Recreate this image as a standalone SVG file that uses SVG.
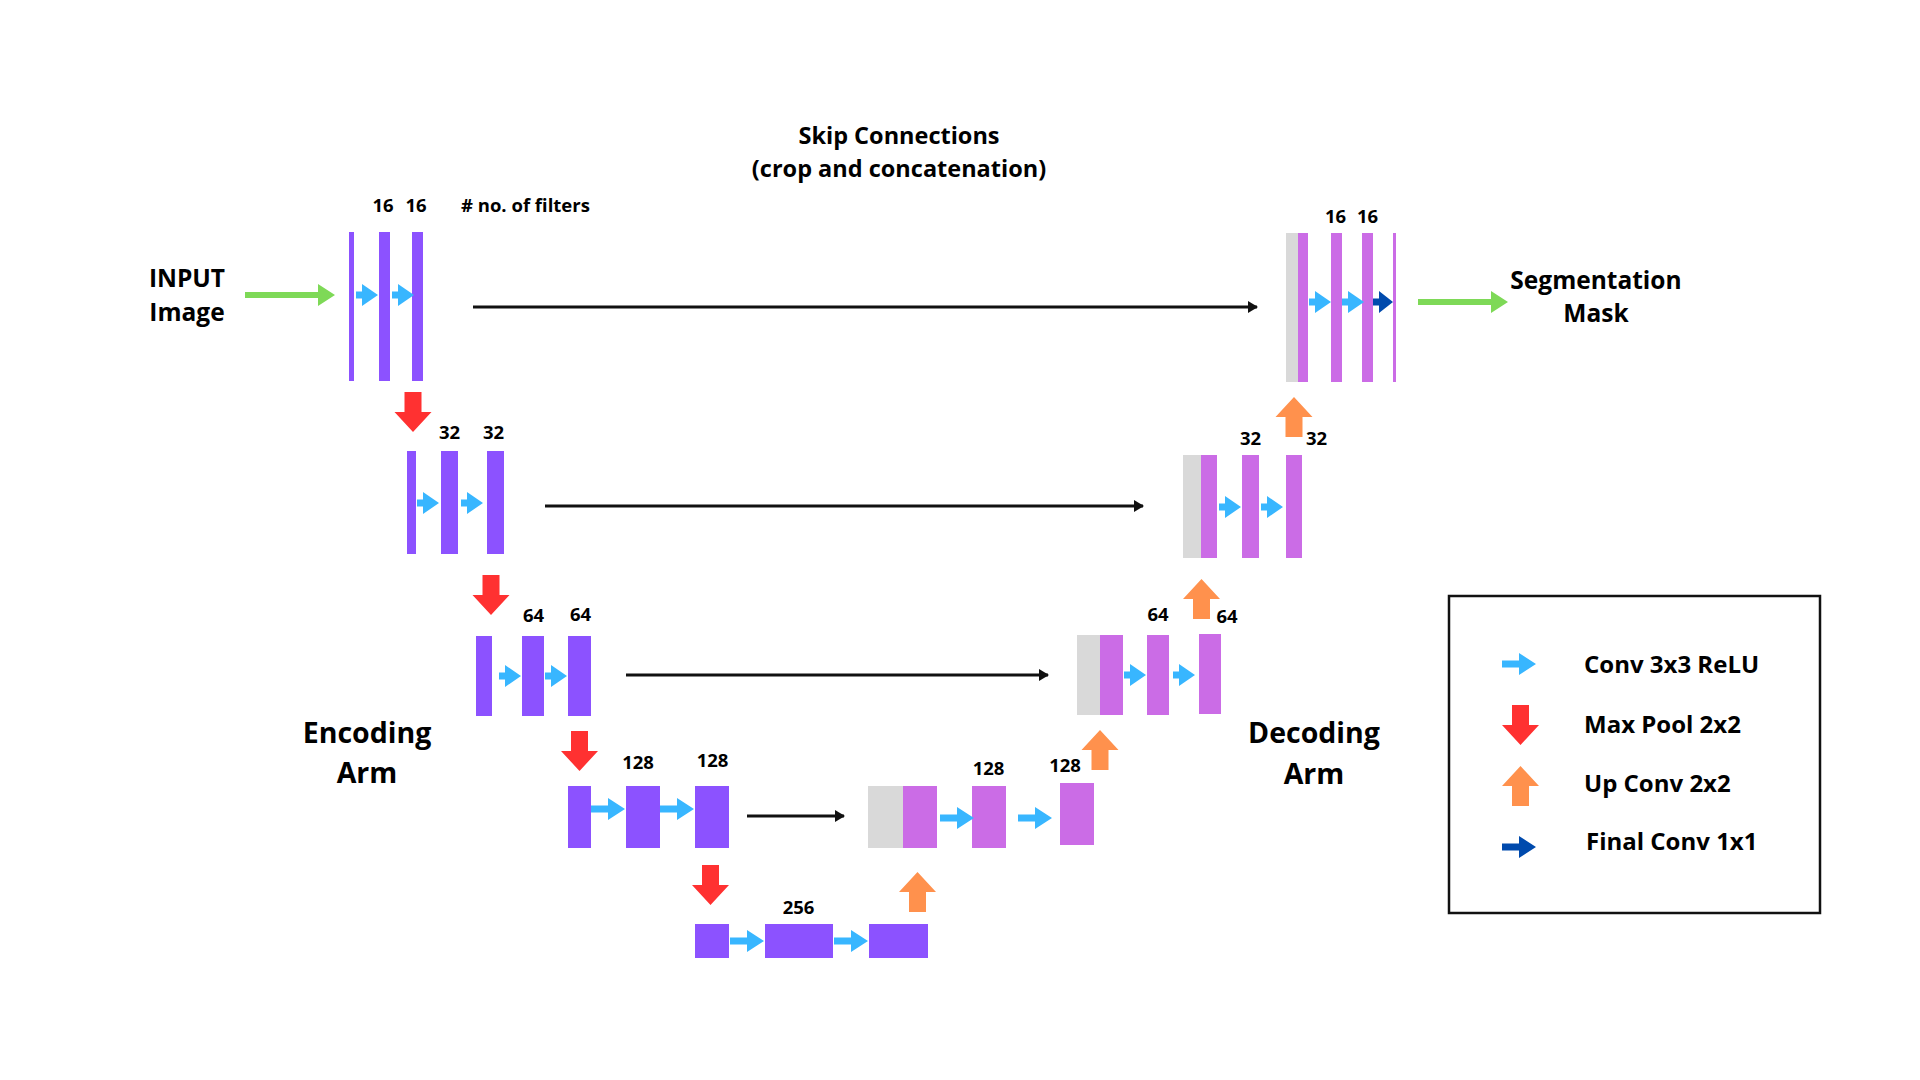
<svg xmlns="http://www.w3.org/2000/svg" xmlns:xlink="http://www.w3.org/1999/xlink" width="1920" height="1080" viewBox="0 0 1920 1080">
<style>
.enc{fill:#8C52FF}
.dec{fill:#CB6CE6}
.crop{fill:#D9D9D9}
.conv{fill:#38B6FF}
.pool{fill:#FF3131}
.up{fill:#FF914D}
.fin{fill:#004AAD}
.io{fill:#7ED957}
.skip{stroke:#111;stroke-width:3;fill:none}
text{font-family:"Open Sans","Liberation Sans",sans-serif;font-weight:700;fill:#000}
.n{font-size:18.5px;text-anchor:middle}
.big{font-size:24.5px;text-anchor:middle}
.arm{font-size:28.5px;text-anchor:middle}
.title{font-size:23.5px;text-anchor:middle}
.leg{font-size:24px}
</style>
<defs>
<path id="cs" d="M0,-3.5 H6 V-11 L22,0 L6,11 V3.5 H0 Z"/>
<path id="cl" d="M0,-3.5 H17 V-11 L34,0 L17,11 V3.5 H0 Z"/>
<path id="cf" d="M0,-3.5 H6 V-11 L20,0 L6,11 V3.5 H0 Z"/>
<path id="dn" d="M-8.5,0 H8.5 V20 H18.5 L0,40 L-18.5,20 H-8.5 Z"/>
<path id="upa" d="M-8.5,0 V-20 H-18.5 L0,-40 L18.5,-20 H8.5 V0 Z"/>
<path id="io" d="M0,-3 H73 V-11 L90,0 L73,11 V3 H0 Z"/>
<marker id="ah" markerWidth="10" markerHeight="12" refX="9" refY="6" orient="auto" markerUnits="userSpaceOnUse">
<path d="M0,0 L10,6 L0,12 Z" fill="#111"/>
</marker>
</defs>
<rect width="1920" height="1080" fill="#fff"/>

<g id="titles">
<text class="title" x="899" y="144">Skip Connections</text>
<text class="title" x="899" y="177">(crop and concatenation)</text>
<text class="big" x="187" y="287">INPUT</text>
<text class="big" x="187" y="321">Image</text>
<text class="big" x="1596" y="289">Segmentation</text>
<text class="big" x="1596" y="322">Mask</text>
<text class="arm" x="367" y="743">Encoding</text>
<text class="arm" x="367" y="783">Arm</text>
<text class="arm" x="1314" y="743">Decoding</text>
<text class="arm" x="1314" y="784">Arm</text>
<text class="n" x="461" y="212" style="text-anchor:start"># no. of filters</text>
</g>

<g id="connectors">
<line class="skip" x1="473" y1="307" x2="1257" y2="307" marker-end="url(#ah)"/>
<line class="skip" x1="545" y1="506" x2="1143" y2="506" marker-end="url(#ah)"/>
<line class="skip" x1="626" y1="675" x2="1048" y2="675" marker-end="url(#ah)"/>
<line class="skip" x1="747" y1="816" x2="844" y2="816" marker-end="url(#ah)"/>
<use href="#io" class="io" x="245" y="295"/>
<use href="#io" class="io" x="1418" y="302"/>
<use href="#dn" class="pool" x="413" y="392"/>
<use href="#dn" class="pool" x="491" y="575"/>
<use href="#dn" class="pool" x="579.5" y="731"/>
<use href="#dn" class="pool" x="710.5" y="865"/>
<use href="#upa" class="up" x="917.5" y="912"/>
<use href="#upa" class="up" x="1100" y="770"/>
<use href="#upa" class="up" x="1201.5" y="619"/>
<use href="#upa" class="up" x="1294" y="437"/>
</g>

<g id="enc1">
<rect class="enc" x="349" y="232" width="5" height="149"/>
<rect class="enc" x="379" y="232" width="11" height="149"/>
<rect class="enc" x="412" y="232" width="11" height="149"/>
<use href="#cs" class="conv" x="356" y="295"/>
<use href="#cs" class="conv" x="392" y="295"/>
<text class="n" x="383" y="212">16</text>
<text class="n" x="416" y="212">16</text>
</g>

<g id="enc2">
<rect class="enc" x="407" y="451" width="9" height="103"/>
<rect class="enc" x="441" y="451" width="17" height="103"/>
<rect class="enc" x="487" y="451" width="17" height="103"/>
<use href="#cs" class="conv" x="417" y="503"/>
<use href="#cs" class="conv" x="461" y="503"/>
<text class="n" x="449.5" y="439">32</text>
<text class="n" x="493.5" y="439">32</text>
</g>

<g id="enc3">
<rect class="enc" x="476" y="636" width="16" height="80"/>
<rect class="enc" x="522" y="636" width="22" height="80"/>
<rect class="enc" x="568" y="636" width="23" height="80"/>
<use href="#cs" class="conv" x="499" y="676"/>
<use href="#cs" class="conv" x="545" y="676"/>
<text class="n" x="533.5" y="622">64</text>
<text class="n" x="580.5" y="621">64</text>
</g>

<g id="enc4">
<rect class="enc" x="568" y="786" width="23" height="62"/>
<rect class="enc" x="626" y="786" width="34" height="62"/>
<rect class="enc" x="695" y="786" width="34" height="62"/>
<use href="#cl" class="conv" x="591" y="809"/>
<use href="#cl" class="conv" x="660" y="809"/>
<text class="n" x="638" y="769">128</text>
<text class="n" x="712.5" y="767">128</text>
</g>

<g id="bottleneck">
<rect class="enc" x="695" y="924" width="34" height="34"/>
<rect class="enc" x="765" y="924" width="68" height="34"/>
<rect class="enc" x="869" y="924" width="59" height="34"/>
<use href="#cl" class="conv" x="730" y="941"/>
<use href="#cl" class="conv" x="834" y="941"/>
<text class="n" x="798.5" y="914">256</text>
</g>

<g id="dec4">
<rect class="crop" x="868" y="786" width="35" height="62"/>
<rect class="dec" x="903" y="786" width="34" height="62"/>
<rect class="dec" x="972" y="786" width="34" height="62"/>
<rect class="dec" x="1060" y="783" width="34" height="62"/>
<use href="#cl" class="conv" x="940" y="818"/>
<use href="#cl" class="conv" x="1018" y="818"/>
<text class="n" x="988.5" y="775">128</text>
<text class="n" x="1065" y="772">128</text>
</g>

<g id="dec3">
<rect class="crop" x="1077" y="635" width="23" height="80"/>
<rect class="dec" x="1100" y="635" width="23" height="80"/>
<rect class="dec" x="1147" y="635" width="22" height="80"/>
<rect class="dec" x="1199" y="634" width="22" height="80"/>
<use href="#cs" class="conv" x="1124" y="675"/>
<use href="#cs" class="conv" x="1173" y="675"/>
<text class="n" x="1158" y="621">64</text>
<text class="n" x="1227" y="623">64</text>
</g>

<g id="dec2">
<rect class="crop" x="1183" y="455" width="18" height="103"/>
<rect class="dec" x="1201" y="455" width="16" height="103"/>
<rect class="dec" x="1242" y="455" width="17" height="103"/>
<rect class="dec" x="1286" y="455" width="16" height="103"/>
<use href="#cs" class="conv" x="1219" y="507"/>
<use href="#cs" class="conv" x="1261" y="507"/>
<text class="n" x="1250.5" y="445">32</text>
<text class="n" x="1316.5" y="445">32</text>
</g>

<g id="dec1">
<rect class="crop" x="1286" y="233" width="12" height="149"/>
<rect class="dec" x="1298" y="233" width="10" height="149"/>
<rect class="dec" x="1331" y="233" width="11" height="149"/>
<rect class="dec" x="1362" y="233" width="11" height="149"/>
<rect class="dec" x="1393" y="233" width="3" height="149"/>
<use href="#cs" class="conv" x="1309" y="302"/>
<use href="#cs" class="conv" x="1342" y="302"/>
<use href="#cf" class="fin" x="1373" y="302"/>
<text class="n" x="1335.5" y="223">16</text>
<text class="n" x="1367.5" y="223">16</text>
</g>

<g id="legend">
<rect x="1449" y="596" width="371" height="317" fill="none" stroke="#111" stroke-width="2.5"/>
<use href="#cl" class="conv" x="1502" y="664"/>
<text class="leg" x="1584" y="673">Conv 3x3 ReLU</text>
<use href="#dn" class="pool" x="1520.5" y="705"/>
<text class="leg" x="1584" y="733">Max Pool 2x2</text>
<use href="#upa" class="up" x="1520.5" y="806"/>
<text class="leg" x="1584" y="792">Up Conv 2x2</text>
<use href="#cl" class="fin" x="1502" y="847"/>
<text class="leg" x="1586" y="850">Final Conv 1x1</text>
</g>
</svg>
